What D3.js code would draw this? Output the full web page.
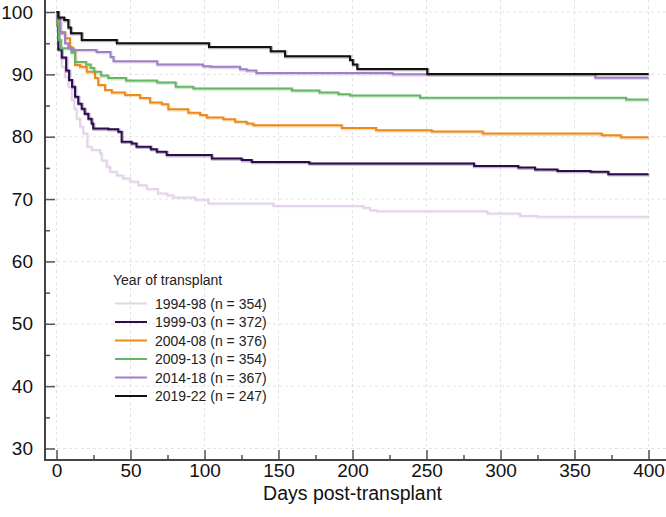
<!DOCTYPE html>
<html><head><meta charset="utf-8">
<script src="https://cdn.jsdelivr.net/npm/d3@7"></script>
<style>body{margin:0;background:#fff;}svg{display:block;font-family:"Liberation Sans",Arial,sans-serif;}</style>
</head><body><svg id="c" width="666" height="517"></svg>
<script>
const groups = ["1994-98 (n = 354)","1999-03 (n = 372)","2004-08 (n = 376)","2009-13 (n = 354)","2014-18 (n = 367)","2019-22 (n = 247)"];
const colors = ["#e4d3e9","#2d0b4e","#ec8a1c","#63b663","#a17fc4","#111111"];
const xTicks = [0,50,100,150,200,250,300,350,400];
const yTicks = [30,40,50,60,70,80,90,100];
const legendTitle = "Year of transplant";
const xTitle = "Days post-transplant";

const days1994 = [0,0.3,1.2,3.5,5.7,8,10.3,12,13.6,15.9,18,20.8,23.7,29.4,30.5,33.9,36.1,40.7,45,49.7,55.2,60.9,68.4,74.5,78.9,93.6,102.6,146.5,207.3,211.8,216.4,291.1,313.2,324.9,400];
const surv1994 = [100,97,93.9,91.2,89.6,88,85.9,84.5,82.9,81.6,80.5,78.4,77.85,77.3,76.2,75.2,74.4,73.8,73.3,72.8,72.2,71.6,70.9,70.6,70.25,69.9,69.3,68.9,68.6,68.2,68.05,67.7,67.3,67.15,67.15];
const days1999 = [0,0.3,1.2,3.5,6.5,8.5,10.5,12.5,14.7,17,19,21.5,23.7,24.8,35,41.7,44,50.7,54,63.7,67.7,74.4,104.9,125.1,131.9,170.8,282.1,312,323.3,338.4,360.9,372.8,400];
const surv1999 = [100,98,94,92.7,90.6,89.1,88,86.4,85.3,84.5,83.7,82.9,82.1,81.3,81.2,80.8,79.2,78.9,78.4,78,77.6,77.05,76.5,76.25,75.95,75.7,75.3,75.05,74.75,74.5,74.4,74,74];
const days2004 = [0,0.5,2.4,5.7,9.1,10.3,12.5,15.9,20.4,26,28.2,32.8,37.3,46.3,56.4,63.2,71.1,75.5,89,97,101.5,112.7,120.6,128.5,133,192.7,215.9,253.5,288,368.4,381.2,400];
const surv2004 = [100,98.2,96.8,95.8,94.4,93.6,91.5,91.2,90.4,89.4,88.3,87.5,87.1,86.7,86.2,85.5,85.2,84.4,83.85,83.5,83.1,82.8,82.4,82.1,81.85,81.4,81.05,80.85,80.5,80.25,79.9,79.9];
const days2009 = [0,0.5,1.5,3,10,12.5,20,23,25.5,30,35,47,68,80.5,92.4,159,177.6,190.4,198.3,245.6,384.8,400];
const surv2009 = [100,98,95.5,94.2,93.5,92,91.6,91,90.4,89.8,89.4,89,88.7,88,87.75,87.4,87.1,86.8,86.6,86.25,85.95,85.95];
const days2014 = [0,0.5,2.5,5.7,8,11.5,27,36.5,38.5,68,99,104,124,128.5,135,227,364,400];
const surv2014 = [100,99,96.6,95,94.2,93.9,93.6,92.8,92.1,91.6,91.3,91.2,90.8,90.6,90.2,90,89.45,89.45];
const days2019 = [0,1.2,5.2,8,9.7,17,40.7,103,144.7,154.4,198.3,200.2,203.2,205.5,250.5,400];
const surv2019 = [100,99.1,98.7,97.5,96.6,95.5,95,94.4,93.7,92.9,92.3,91.6,90.85,90.85,90.05,90.05];

const seriesDays = [days1994,days1999,days2004,days2009,days2014,days2019];
const seriesSurv = [surv1994,surv1999,surv2004,surv2009,surv2014,surv2019];

const svg = d3.select("#c");
const x = d3.scaleLinear().domain([0,400]).range([56.5,648.5]);
const y = d3.scaleLinear().domain([30,100]).range([448.5,12]);
const axisX0 = 45, axisY0 = 460;
const FONT = "Liberation Sans, Arial, sans-serif";

// grid
const grid = svg.append("g").attr("stroke","#e3e3e3").attr("stroke-width",1).attr("stroke-dasharray","3,3");
xTicks.forEach(t=>grid.append("line").attr("x1",x(t)).attr("x2",x(t)).attr("y1",0).attr("y2",axisY0));
yTicks.forEach(t=>grid.append("line").attr("x1",axisX0).attr("x2",666).attr("y1",y(t)).attr("y2",y(t)));

// curves
const line = d3.line().x(d=>x(d[0])).y(d=>y(d[1])).curve(d3.curveStepAfter);
const cg = svg.append("g").attr("fill","none");
seriesDays.forEach((ds,i)=>{
  const pts = ds.map((d,j)=>[d,seriesSurv[i][j]]);
  cg.append("path").attr("d",line(pts)).attr("stroke",colors[i]).attr("stroke-width",3).attr("opacity",0.3).attr("transform","translate(0.8,0.8)");
  cg.append("path").attr("d",line(pts)).attr("stroke",colors[i]).attr("stroke-width",2);
});

// axes
const xAxis = d3.axisBottom(x).tickValues(xTicks).tickSize(-10).tickPadding(3);
const gx = svg.append("g").attr("transform",`translate(0,${axisY0})`).call(xAxis);
gx.select(".domain").remove();
gx.selectAll(".tick line").attr("stroke","#555").attr("stroke-width",1.5);
gx.selectAll(".tick text").attr("font-size",19).attr("fill","#111").attr("font-family",FONT);
const xMinor = d3.range(25,400,50);
const gxm = svg.append("g").attr("transform",`translate(0,${axisY0})`).call(d3.axisBottom(x).tickValues(xMinor).tickSize(-5).tickFormat(""));
gxm.select(".domain").remove();
gxm.selectAll(".tick line").attr("stroke","#555").attr("stroke-width",1.5);

const yAxis = d3.axisLeft(y).tickValues(yTicks).tickSize(-10).tickPadding(12);
const gy = svg.append("g").attr("transform",`translate(${axisX0},0)`).call(yAxis);
gy.select(".domain").remove();
gy.selectAll(".tick line").attr("stroke","#555").attr("stroke-width",1.5);
gy.selectAll(".tick text").attr("font-size",19).attr("fill","#111").attr("font-family",FONT);
const yMinor = d3.range(35,100,10);
const gym = svg.append("g").attr("transform",`translate(${axisX0},0)`).call(d3.axisLeft(y).tickValues(yMinor).tickSize(-5).tickFormat(""));
gym.select(".domain").remove();
gym.selectAll(".tick line").attr("stroke","#555").attr("stroke-width",1.5);

svg.append("line").attr("x1",axisX0).attr("x2",axisX0).attr("y1",0).attr("y2",axisY0+1).attr("stroke","#444").attr("stroke-width",2);
svg.append("line").attr("x1",axisX0-1).attr("x2",666).attr("y1",axisY0).attr("y2",axisY0).attr("stroke","#444").attr("stroke-width",2);

svg.append("text").attr("x",(x(0)+x(400))/2).attr("y",500).attr("text-anchor","middle").attr("font-size",19.5).attr("fill","#111").text(xTitle);

// legend
const lg = svg.append("g").attr("transform","translate(113,285)");
lg.append("text").attr("x",0).attr("y",0).attr("font-size",14).attr("fill","#222").text(legendTitle);
groups.forEach((g,i)=>{
  const yy = 18.5 + i*18.5;
  lg.append("line").attr("x1",2).attr("x2",34).attr("y1",yy).attr("y2",yy).attr("stroke",colors[i]).attr("stroke-width",2);
  lg.append("text").attr("x",42).attr("y",yy+5).attr("font-size",14).attr("fill","#222").text(g);
});
</script></body></html>
